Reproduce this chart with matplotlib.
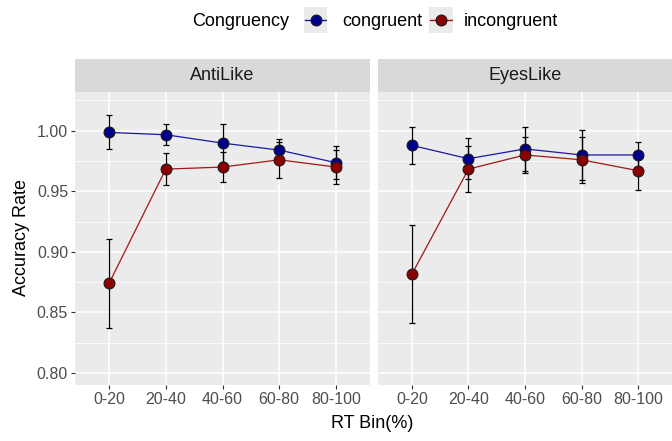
import matplotlib
matplotlib.use("Agg")
import matplotlib.pyplot as plt
from matplotlib.lines import Line2D
import numpy as np

plt.rcParams['font.family'] = ['Liberation Sans', 'DejaVu Sans']

bins = ["0-20", "20-40", "40-60", "60-80", "80-100"]
panels = ["AntiLike", "EyesLike"]
groups = ["congruent", "incongruent"]

# mean accuracy per RT bin
anti_cong = [0.9986, 0.9967, 0.9898, 0.9840, 0.9736]
anti_incong = [0.8739, 0.9683, 0.9700, 0.9760, 0.9700]
eyes_cong = [0.9879, 0.9769, 0.9850, 0.9800, 0.9800]
eyes_incong = [0.8816, 0.9683, 0.9800, 0.9760, 0.9670]

# error bar half-widths
anti_cong_err = [0.0140, 0.0085, 0.0160, 0.0090, 0.0135]
anti_incong_err = [0.0370, 0.0130, 0.0125, 0.0150, 0.0140]
eyes_cong_err = [0.0150, 0.0170, 0.0180, 0.0205, 0.0110]
eyes_incong_err = [0.0405, 0.0190, 0.0145, 0.0190, 0.0160]

series = {
    "AntiLike": [(anti_cong, anti_cong_err), (anti_incong, anti_incong_err)],
    "EyesLike": [(eyes_cong, eyes_cong_err), (eyes_incong, eyes_incong_err)],
}

fill_colors = {"congruent": "#00008B", "incongruent": "#8B0000"}
line_colors = {"congruent": "#1a1aa0", "incongruent": "#a01818"}

W, H = 672, 441
fig = plt.figure(figsize=(W / 100, H / 100), dpi=100)

def fx(px):
    return px / W

def fy(py):
    return 1 - py / H

panel_top, panel_bot = 92, 385
strip_top = 59
panel_x = [(75, 370), (378, 672)]

y_lo, y_hi = 0.790, 1.032
yticks = [0.80, 0.85, 0.90, 0.95, 1.00]
yminor = [0.825, 0.875, 0.925, 0.975, 1.025]
x = np.arange(len(bins))

for i, name in enumerate(panels):
    x0, x1 = panel_x[i]
    ax = fig.add_axes([fx(x0), fy(panel_bot), fx(x1 - x0), (panel_bot - panel_top) / H])
    ax.set_facecolor("#EBEBEB")
    for s in ax.spines.values():
        s.set_visible(False)
    ax.set_xlim(-0.6, len(bins) - 0.4)
    ax.set_ylim(y_lo, y_hi)
    for ym in yminor:
        ax.axhline(ym, color="white", lw=0.6, zorder=0)
    for yt in yticks:
        ax.axhline(yt, color="white", lw=1.1, zorder=0)
    for xv in x:
        ax.axvline(xv, color="white", lw=1.1, zorder=0)

    for g, (vals, errs) in zip(groups, series[name]):
        ax.errorbar(x, vals, yerr=errs, fmt="none", ecolor="black",
                    elinewidth=0.9, capsize=2.2, capthick=0.9, zorder=2)
    for g, (vals, errs) in zip(groups, series[name]):
        ax.plot(x, vals, color=line_colors[g], lw=0.9, zorder=3)
    for g, (vals, errs) in zip(groups, series[name]):
        ax.plot(x, vals, "o", ms=7.8, mfc=fill_colors[g], mec="#1a1a1a",
                mew=0.8, zorder=4, ls="none")

    ax.set_xticks(x)
    ax.set_xticklabels(bins)
    ax.tick_params(axis="x", length=3, width=0.8, color="#333333",
                   labelcolor="#4D4D4D", labelsize=11.5, pad=2)
    ax.set_yticks(yticks)
    if i == 0:
        ax.set_yticklabels([f"{v:.2f}" for v in yticks])
        ax.tick_params(axis="y", length=3, width=0.8, color="#333333",
                       labelcolor="#4D4D4D", labelsize=11.5, pad=2)
    else:
        ax.tick_params(axis="y", length=0, labelleft=False)

    # facet strip
    sax = fig.add_axes([fx(x0), fy(panel_top), fx(x1 - x0), (panel_top - strip_top) / H])
    sax.set_facecolor("#D9D9D9")
    sax.set_xticks([])
    sax.set_yticks([])
    for s in sax.spines.values():
        s.set_visible(False)
    sax.text(0.5, 0.5, name, ha="center", va="center", fontsize=13,
             color="#1A1A1A", transform=sax.transAxes)

fig.text(fx(372), fy(424), "RT Bin(%)", ha="center", va="center", fontsize=13, color="black")
fig.text(fx(22), fy(238), "Accuracy Rate", ha="center", va="center", rotation=90,
         fontsize=13, color="black")

# legend
fig.text(fx(192), fy(21), "Congruency", ha="left", va="center", fontsize=13, color="black")
key_boxes = [(304, 327), (429, 453)]
label_x = [342, 464]
for g, (kx0, kx1), lx in zip(groups, key_boxes, label_x):
    kax = fig.add_axes([fx(kx0), fy(33), fx(kx1 - kx0), 26 / H])
    kax.set_facecolor("#EBEBEB")
    kax.set_xticks([])
    kax.set_yticks([])
    for s in kax.spines.values():
        s.set_visible(False)
    kax.set_xlim(0, 1)
    kax.set_ylim(0, 1)
    kax.add_line(Line2D([0.05, 0.95], [0.5, 0.5], color=line_colors[g], lw=1.0))
    kax.plot([0.5], [0.5], "o", ms=7.8, mfc=fill_colors[g], mec="#1a1a1a", mew=0.8)
    fig.text(fx(lx), fy(21), g, ha="left", va="center", fontsize=13, color="black")

fig.savefig("out.png", dpi=100, facecolor="white")
